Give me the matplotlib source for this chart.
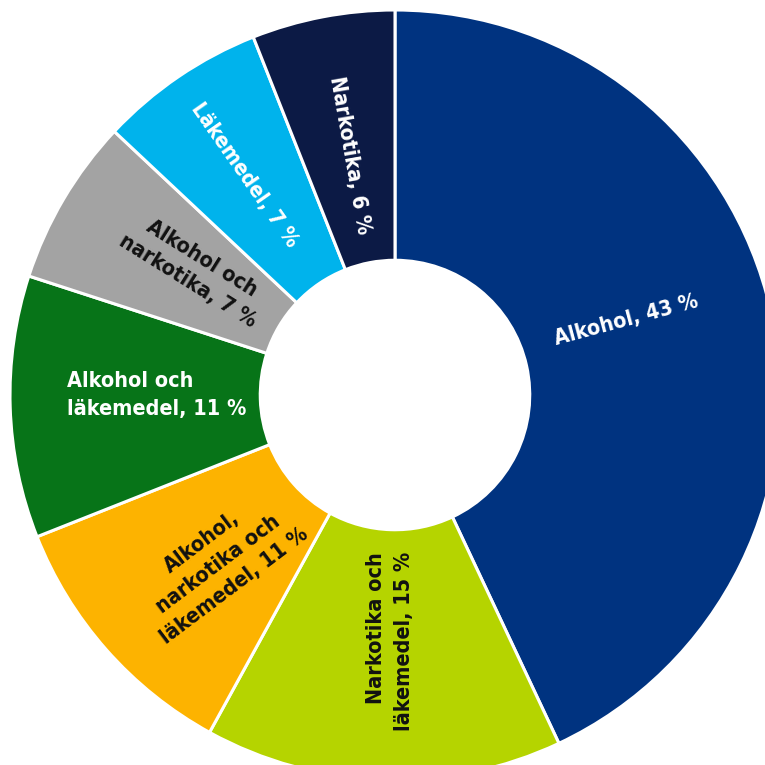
import matplotlib
matplotlib.use("Agg")
import matplotlib.pyplot as plt
from matplotlib import font_manager
import os

categories = ["Alkohol", "Narkotika och\nläkemedel", "Alkohol,\nnarkotika och\nläkemedel",
              "Alkohol och\nläkemedel", "Alkohol och\nnarkotika", "Läkemedel", "Narkotika"]
values = [43, 15, 11, 11, 7, 7, 6]
colors = ["#003380", "#b5d400", "#fdb300", "#077418", "#a3a3a3", "#00b3ec", "#0c1a45"]
text_colors = ["white", "#111111", "#111111", "white", "#111111", "white", "white"]

# label placement (data units), rotation, alignment
label_pos = [(0.60, 0.195), (-0.013, -0.64), (-0.46, -0.44), (-0.852, 0.0),
             (-0.52, 0.325), (-0.39, 0.571), (-0.117, 0.623)]
label_rot = [15, 90, 37, 0, -32, -55, -80]
label_ha = ["center", "center", "center", "left", "center", "center", "center"]
label_ma = ["center", "right", "center", "left", "center", "center", "center"]

# find a condensed bold font if one exists
cands = []
for f in font_manager.fontManager.ttflist:
    b = os.path.basename(f.fname).lower()
    if ("condensed" in b or "narrow" in b) and "bold" in b and "oblique" not in b and "italic" not in b:
        cands.append(f.fname)
cands.sort(key=lambda s: (0 if "dejavusanscondensed" in s.lower() else 1))
if cands:
    fp = font_manager.FontProperties(fname=cands[0], size=15.5)
else:
    fp = font_manager.FontProperties(family="DejaVu Sans", weight="bold", size=13.5)

fig = plt.figure(figsize=(7.65, 7.65), dpi=100)
ax = fig.add_axes([0, 0, 1, 1])
wedges, _ = ax.pie(values, colors=colors, startangle=90, counterclock=False, radius=1.0,
                   wedgeprops=dict(width=0.65, edgecolor="white", linewidth=2.2))
for cat, v, (x, y), rot, ha, ma, tc in zip(categories, values, label_pos, label_rot,
                                           label_ha, label_ma, text_colors):
    ax.text(x, y, f"{cat}, {v} %", rotation=rot, ha=ha, va="center", multialignment=ma,
            color=tc, fontproperties=fp, linespacing=1.45, rotation_mode="anchor")
ax.set_xlim(-395 / 385, 370 / 385)
ax.set_ylim(-370 / 385, 395 / 385)
ax.set_aspect("equal")
ax.axis("off")
fig.savefig("out.png", dpi=100, facecolor="white")
